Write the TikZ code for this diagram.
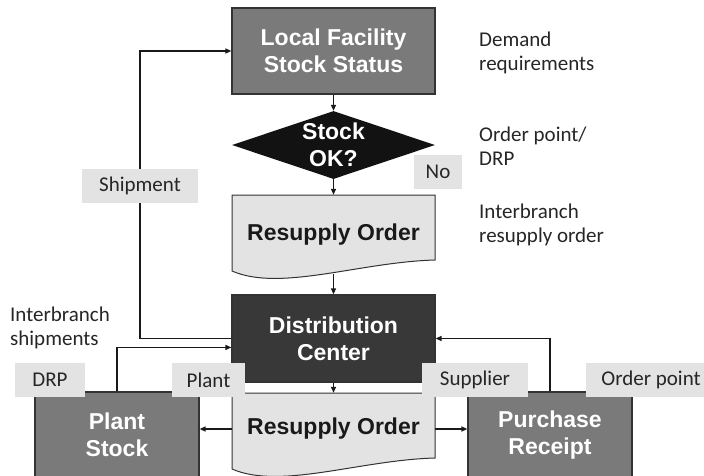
\documentclass[tikz,border=0pt]{standalone}
\usepackage{fontspec}
\setmainfont{Liberation Sans}
\newfontfamily\notefont{Carlito}
\usetikzlibrary{arrows.meta,shapes.geometric}
% document sheet with a wavy lower edge, drawn from its top left corner
\def\sheet(#1,#2){\draw[fill=black!11, draw=black!80, line width=1pt] (#1,#2) -- ++(203,0) -- ++(0,65) .. controls +(-75,2) and +(48,21) .. ++(-203,11) -- cycle;}

\tikzset{
	box/.style={draw=black!80, line width=1.2pt, minimum width=203pt, minimum height=86pt, inner sep=0pt, align=center, text=white, font=\fontsize{23}{27}\selectfont\bfseries},
	doc/.style={minimum width=203pt, inner sep=0pt, text=black!90, font=\fontsize{23}{27}\selectfont\bfseries},
	flow/.style={line width=1.3pt, draw=black!90, -{Triangle[length=6pt,width=5pt]}},
	tag/.style={fill=black!11, minimum height=34pt, inner sep=0pt, text=black!85, font=\notefont\fontsize{21}{25}\selectfont},
	note/.style={anchor=base west, align=left, inner sep=0pt, text=black!85, font=\notefont\fontsize{21}{24}\selectfont},
}

\begin{document}
\begin{tikzpicture}[x=1pt, y=-1pt]
			%%%%% START %%%%%
			\useasboundingbox (0,0) rectangle (704,475);
			\clip (0,0) rectangle (704,475);
			
			\node[box, fill=black!52] (lfss) at (333.5,51) {Local Facility\\Stock Status};
			\node[diamond, aspect=3, fill=black!93, minimum width=203pt, minimum height=68pt, inner sep=0pt, align=center, text=white, font=\fontsize{23}{27}\selectfont\bfseries] (stockok) at (333.5,145) {Stock\\OK?};
			
			\sheet(232,195)
			\node[doc, minimum height=79pt] (order1) at (333.5,234.5) {Resupply Order};
			
			\node[box, fill=black!78, minimum height=87pt] (dc) at (333.5,338.5) {Distribution\\Center};
			
			\sheet(232,393)
			\node[doc, minimum height=72pt] (order2) at (333.5,429) {Resupply Order};
			
			\node[box, fill=black!52, minimum width=164pt] (plant) at (117,435) {Plant\\Stock};
			\node[box, fill=black!52, minimum width=164pt] (purchase) at (550,435) {Purchase\\Receipt};
			
			% main chain
			\draw[flow] (lfss.south) -- (stockok.north);
			\draw[flow] (stockok.south) -- (order1.north);
			\draw[flow] (order1.south) -- (dc.north);
			\draw[flow] (dc.south) -- (order2.north);
			\draw[flow] (order2.west) -- (order2.west -| plant.east);
			\draw[flow] (order2.east) -- (order2.east -| purchase.west);
			
			% return loops
			\draw[flow] (dc.west) -| (140,185.5) |- (lfss.west);
			\draw[flow] (plant.north) |- (dc.185);
			\draw[flow] (purchase.north) |- (dc.east);
			
			\node[tag, minimum width=48pt] (no) at (438,171.5) {No};
			\node[tag, minimum width=116pt] (shipment) at (140,185.5) {Shipment};
			\node[tag, minimum width=70pt] (drp) at (50,380) {DRP};
			\node[tag, minimum width=73pt] (plantsrc) at (208.5,380) {Plant};
			\node[tag, minimum width=106pt] (supplier) at (475,380) {Supplier};
			\node[tag, minimum width=130pt] (orderpt) at (651,380) {Order point};
			
			% side notes, placed by the baseline of their last line
			\node[note] (demand) at (479,70) {Demand\\requirements};
			\node[note] (rule) at (479,165) {Order point/\\DRP};
			\node[note] (branchorder) at (479,242) {Interbranch\\resupply order};
			\node[note] (branchship) at (10,345) {Interbranch\\shipments};
			
			%%%%% END %%%%%
\end{tikzpicture}
\end{document}
